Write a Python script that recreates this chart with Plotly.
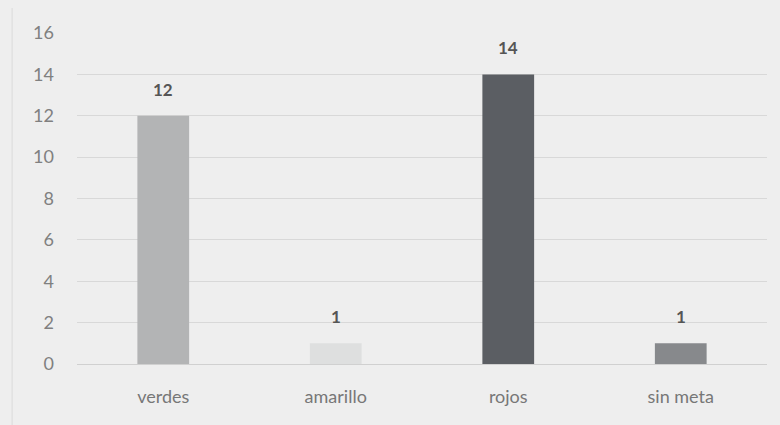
import plotly.graph_objects as go

categories = ["verdes", "amarillo", "rojos", "sin meta"]
values = [12, 1, 14, 1]
bar_colors = ["#b3b4b5", "#dedfdf", "#5b5e63", "#87898c"]
tick_vals = [0, 2, 4, 6, 8, 10, 12, 14, 16]

fig = go.Figure(go.Bar(
    x=categories, y=values,
    marker=dict(color=bar_colors, line=dict(width=0)),
    width=0.3,
    hoverinfo="skip",
))

for c, v in zip(categories, values):
    fig.add_annotation(x=c, y=v, text=f"<b>{v}</b>", showarrow=False,
                       yanchor="bottom", yshift=14,
                       font=dict(family="Lato", size=17, color="#555555"))

fig.update_layout(
    width=780, height=425,
    margin=dict(l=69, r=21, t=25, b=69),
    paper_bgcolor="#eeeeee",
    plot_bgcolor="#eeeeee",
    showlegend=False,
    font=dict(family="Lato", color="#7a7a7a"),
    xaxis=dict(
        tickfont=dict(size=18, color="#777777"),
        showgrid=False, showline=False, ticks="",
        ticklabelstandoff=20,
    ),
    yaxis=dict(
        range=[0, 16], tickvals=tick_vals,
        tickfont=dict(size=18, color="#808080"),
        gridcolor="#d8d8d8", gridwidth=1,
        zeroline=True, zerolinecolor="#d0d0d0", zerolinewidth=1,
        showline=False, ticks="", ticklabelstandoff=22,
    ),
    bargap=0.7,
)

fig.add_shape(type="rect", xref="paper", yref="paper",
              x0=-0.094, x1=1.016, y0=-0.19, y1=1.09,
              line=dict(color="#dadada", width=1))

fig.write_html("out.html",
               post_script="document.body.style.background='#eeeeee';")
